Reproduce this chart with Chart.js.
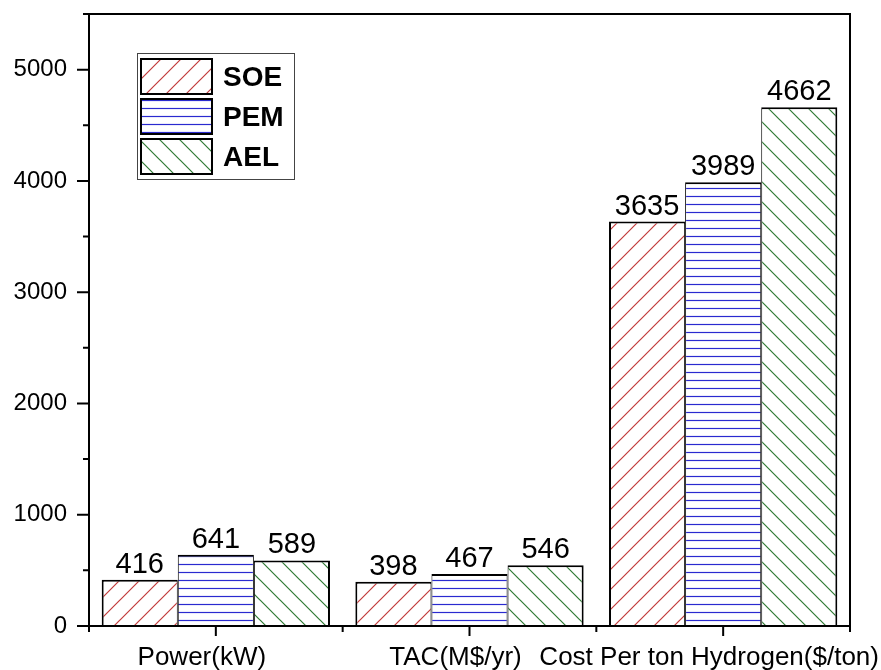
<!DOCTYPE html>
<html>
<head>
<meta charset="utf-8">
<script src="https://cdn.jsdelivr.net/npm/chart.js@4/dist/chart.umd.min.js"></script>
<style>
  html, body { margin: 0; padding: 0; background: #fff; }
</style>
</head>
<body>
<canvas id="costChart" width="881" height="670"></canvas>
<script>
const categories = ["Power(kW)", "TAC(M$/yr)", "Cost Per ton Hydrogen($/ton)"];
const soeValues = [416, 398, 3635];
const pemValues = [641, 467, 3989];
const aelValues = [589, 546, 4662];
const yTicks = [0, 1000, 2000, 3000, 4000, 5000];
const yMinorTicks = [500, 1500, 2500, 3500, 4500];

const FONT = 'Arial, "Liberation Sans", sans-serif';

function hatch(color, kind) {
  const size = kind === "h" ? 8 : 20;
  const c = document.createElement("canvas");
  c.width = size; c.height = size;
  const g = c.getContext("2d");
  g.fillStyle = "#fff";
  g.fillRect(0, 0, size, size);
  g.strokeStyle = color;
  g.lineWidth = 1.2;
  g.beginPath();
  if (kind === "h") {
    g.moveTo(0, 4.5); g.lineTo(size, 4.5);
  } else if (kind === "/") {
    g.moveTo(-2, size + 2); g.lineTo(size + 2, -2);
    g.moveTo(-2, 2); g.lineTo(2, -2);
    g.moveTo(size - 2, size + 2); g.lineTo(size + 2, size - 2);
  } else {
    g.moveTo(-2, -2); g.lineTo(size + 2, size + 2);
    g.moveTo(size - 2, -2); g.lineTo(size + 2, 2);
    g.moveTo(-2, size - 2); g.lineTo(2, size + 2);
  }
  g.stroke();
  return g.createPattern(c, "repeat");
}

const ctx = document.getElementById("costChart").getContext("2d");

const frameAndTicks = {
  id: "frameAndTicks",
  afterDraw(chart) {
    const { ctx, chartArea: a } = chart;
    const x = chart.scales.x, y = chart.scales.y;
    ctx.save();
    ctx.strokeStyle = "#000";
    ctx.lineWidth = 2;
    ctx.beginPath();
    // frame
    ctx.moveTo(a.left - 6, a.top); ctx.lineTo(a.right + 1, a.top);
    ctx.moveTo(a.right, a.top); ctx.lineTo(a.right, a.bottom);
    ctx.moveTo(a.left, a.top); ctx.lineTo(a.left, a.bottom + 1);
    ctx.moveTo(a.left - 1, a.bottom); ctx.lineTo(a.right + 1, a.bottom);
    // y ticks
    yTicks.forEach(v => { const py = y.getPixelForValue(v); ctx.moveTo(a.left - 12, py); ctx.lineTo(a.left, py); });
    yMinorTicks.forEach(v => { const py = y.getPixelForValue(v); ctx.moveTo(a.left - 6, py); ctx.lineTo(a.left, py); });
    // x ticks: major at category centres, minor at boundaries
    categories.forEach((c, i) => {
      const px = x.getPixelForValue(i);
      ctx.moveTo(px, a.bottom); ctx.lineTo(px, a.bottom + 10);
    });
    for (let i = 0; i <= categories.length; i++) {
      const px = x.getPixelForValue(i - 0.5);
      ctx.moveTo(px, a.bottom); ctx.lineTo(px, a.bottom + 6);
    }
    ctx.stroke();
    ctx.restore();
  }
};

const valueLabels = {
  id: "valueLabels",
  afterDatasetsDraw(chart) {
    const { ctx } = chart;
    ctx.save();
    ctx.font = "29px " + FONT;
    ctx.fillStyle = "#000";
    ctx.textAlign = "center";
    ctx.textBaseline = "alphabetic";
    chart.data.datasets.forEach((ds, di) => {
      chart.getDatasetMeta(di).data.forEach((bar, i) => {
        ctx.fillText(String(ds.data[i]), bar.x, bar.y - 7);
      });
    });
    ctx.restore();
  }
};

const boxLegend = {
  id: "boxLegend",
  afterDraw(chart) {
    const { ctx, chartArea: a } = chart;
    const left = a.left + 48, top = a.top + 39;
    ctx.save();
    ctx.strokeStyle = "#444";
    ctx.lineWidth = 1;
    ctx.strokeRect(left + 0.5, top + 0.5, 157, 126);
    ctx.font = "bold 28px " + FONT;
    ctx.textBaseline = "middle";
    chart.data.datasets.forEach((ds, i) => {
      const sy = top + 6 + i * 40;
      ctx.fillStyle = ds.backgroundColor;
      ctx.fillRect(left + 4, sy, 71, 35);
      ctx.strokeStyle = "#000";
      ctx.lineWidth = 2;
      ctx.strokeRect(left + 4, sy, 71, 35);
      ctx.fillStyle = "#000";
      ctx.fillText(ds.label, left + 86, sy + 19);
    });
    ctx.restore();
  }
};

new Chart(ctx, {
  type: "bar",
  data: {
    labels: categories,
    datasets: [
      { label: "SOE", data: soeValues, backgroundColor: hatch("#c23b3b", "/"),
        borderColor: "#000", borderWidth: { left: 2, right: 1, top: 2, bottom: 0 } },
      { label: "PEM", data: pemValues, backgroundColor: hatch("#2a2ad0", "h"),
        borderColor: "#000", borderWidth: { left: 1, right: 1, top: 2, bottom: 0 } },
      { label: "AEL", data: aelValues, backgroundColor: hatch("#2f7a34", "\\"),
        borderColor: "#000", borderWidth: { left: 1, right: 2, top: 2, bottom: 0 } }
    ]
  },
  options: {
    responsive: false,
    animation: false,
    devicePixelRatio: 1,
    layout: { padding: { top: 14, right: 31, left: 0, bottom: 0 } },
    datasets: { bar: { categoryPercentage: 0.9, barPercentage: 1.0, borderSkipped: false, inflateAmount: 0 } },
    plugins: { legend: { display: false }, tooltip: { enabled: false } },
    scales: {
      x: {
        grid: { display: false, drawTicks: true, tickLength: 10 },
        border: { display: false },
        ticks: { color: "#000", font: { family: FONT, size: 26 }, padding: 6, labelOffset: -14, maxRotation: 0, autoSkip: false },
        afterFit(scale) {
          scale.height = 44;
          scale.paddingLeft = 0; scale.paddingRight = 0;
        }
      },
      y: {
        min: 0,
        max: 5500,
        grid: { display: false, drawTicks: true, tickLength: 12 },
        border: { display: false },
        ticks: { color: "#000", font: { family: FONT, size: 24 }, padding: 10, callback: v => String(v) },
        afterBuildTicks(scale) { scale.ticks = yTicks.map(v => ({ value: v })); },
        afterFit(scale) {
          scale.width = 89;
          scale.paddingTop = 0; scale.paddingBottom = 0;
        }
      }
    }
  },
  plugins: [frameAndTicks, valueLabels, boxLegend]
});
</script>
</body>
</html>
